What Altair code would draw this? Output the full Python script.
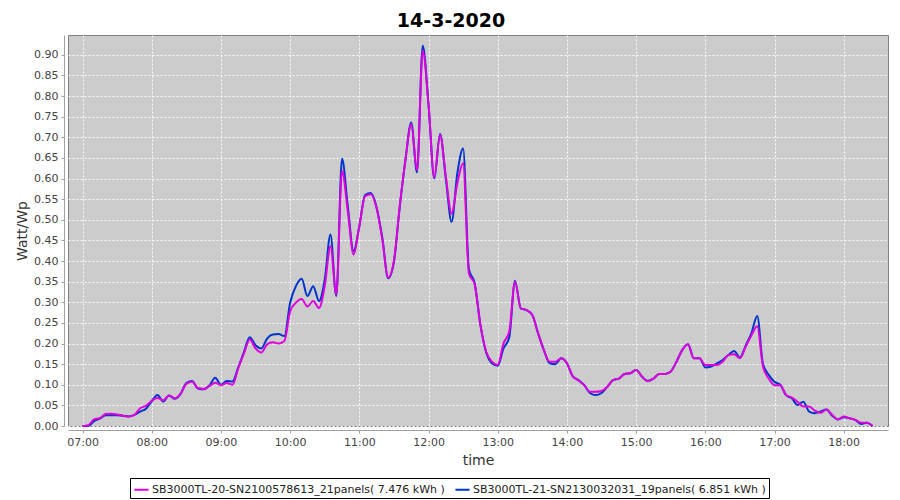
import altair as alt
import pandas as pd

# 5-minute samples from 07:00 to 18:25
start_hour = 7.0
step_min = 5

series_a_name = "SB3000TL-20-SN2100578613_21panels( 7.476 kWh )"
series_b_name = "SB3000TL-21-SN2130032031_19panels( 6.851 kWh )"

series_a = [
    0.000, 0.002, 0.016, 0.019, 0.029, 0.030, 0.028, 0.025, 0.023, 0.027, 0.043, 0.049,  # 07
    0.061, 0.068, 0.062, 0.074, 0.067, 0.078, 0.102, 0.107, 0.092, 0.090, 0.097, 0.105,  # 08
    0.099, 0.104, 0.100, 0.140, 0.176, 0.210, 0.188, 0.178, 0.198, 0.203, 0.200, 0.206,  # 09
    0.278, 0.299, 0.308, 0.290, 0.303, 0.286, 0.339, 0.436, 0.319, 0.618, 0.521, 0.416,  # 10
    0.484, 0.557, 0.562, 0.528, 0.451, 0.360, 0.400, 0.532, 0.645, 0.732, 0.620, 0.910,  # 11
    0.779, 0.603, 0.706, 0.605, 0.515, 0.589, 0.637, 0.370, 0.344, 0.245, 0.180, 0.156,  # 12
    0.148, 0.200, 0.229, 0.350, 0.285, 0.281, 0.269, 0.225, 0.184, 0.156, 0.156, 0.164,  # 13
    0.152, 0.121, 0.111, 0.099, 0.083, 0.083, 0.085, 0.095, 0.111, 0.115, 0.126, 0.128,  # 14
    0.136, 0.120, 0.109, 0.115, 0.126, 0.126, 0.132, 0.156, 0.184, 0.198, 0.164, 0.164,  # 15
    0.148, 0.148, 0.148, 0.156, 0.172, 0.174, 0.164, 0.192, 0.220, 0.242, 0.144, 0.115,  # 16
    0.099, 0.099, 0.075, 0.069, 0.059, 0.047, 0.047, 0.037, 0.032, 0.040, 0.027, 0.016,  # 17
    0.023, 0.019, 0.015, 0.008, 0.008, 0.000,                                            # 18
]

series_b = [
    0.000, 0.000, 0.012, 0.018, 0.026, 0.026, 0.026, 0.025, 0.023, 0.027, 0.035, 0.042,  # 07
    0.060, 0.075, 0.059, 0.074, 0.066, 0.078, 0.104, 0.109, 0.091, 0.089, 0.098, 0.117,  # 08
    0.100, 0.109, 0.108, 0.142, 0.180, 0.215, 0.196, 0.188, 0.212, 0.222, 0.223, 0.218,  # 09
    0.299, 0.339, 0.357, 0.315, 0.339, 0.303, 0.355, 0.464, 0.315, 0.648, 0.533, 0.424,  # 10
    0.484, 0.560, 0.565, 0.530, 0.455, 0.358, 0.398, 0.530, 0.645, 0.736, 0.615, 0.922,  # 11
    0.780, 0.600, 0.708, 0.600, 0.495, 0.613, 0.673, 0.380, 0.346, 0.245, 0.178, 0.152,  # 12
    0.146, 0.188, 0.215, 0.352, 0.285, 0.281, 0.269, 0.225, 0.184, 0.152, 0.150, 0.164,  # 13
    0.152, 0.121, 0.111, 0.099, 0.080, 0.075, 0.080, 0.095, 0.111, 0.115, 0.126, 0.128,  # 14
    0.136, 0.120, 0.109, 0.115, 0.126, 0.126, 0.132, 0.156, 0.184, 0.198, 0.164, 0.164,  # 15
    0.142, 0.144, 0.152, 0.160, 0.172, 0.182, 0.166, 0.195, 0.225, 0.267, 0.150, 0.124,  # 16
    0.107, 0.100, 0.075, 0.067, 0.051, 0.059, 0.035, 0.031, 0.035, 0.040, 0.025, 0.016,  # 17
    0.021, 0.019, 0.015, 0.005, 0.008, 0.000,                                            # 18
]

hour_ticks = [7, 8, 9, 10, 11, 12, 13, 14, 15, 16, 17, 18]
y_ticks = [0.00, 0.05, 0.10, 0.15, 0.20, 0.25, 0.30, 0.35, 0.40, 0.45,
           0.50, 0.55, 0.60, 0.65, 0.70, 0.75, 0.80, 0.85, 0.90]

hours = [start_hour + i * step_min / 60.0 for i in range(len(series_a))]

df = pd.DataFrame(
    {"time": hours * 2,
     "value": series_b + series_a,
     "series": [series_b_name] * len(series_b) + [series_a_name] * len(series_a),
     "order": [0] * len(series_b) + [1] * len(series_a)}
)

font = "DejaVu Sans"
color_scale = alt.Scale(domain=[series_a_name, series_b_name], range=["#dd00dd", "#0033cc"])

base = alt.Chart(df).encode(
    x=alt.X("time:Q",
            scale=alt.Scale(domain=[6.79, 18.64], nice=False, zero=False),
            axis=alt.Axis(values=hour_ticks,
                          labelExpr="(datum.value < 10 ? '0' : '') + datum.value + ':00'",
                          title="time", offset=4, grid=True)),
    y=alt.Y("value:Q",
            scale=alt.Scale(domain=[0, 0.948], nice=False),
            axis=alt.Axis(values=y_ticks, format=".2f", title="Watt/Wp",
                          offset=4, grid=True)),
    color=alt.Color("series:N", scale=color_scale,
                    legend=alt.Legend(title=None, orient="none", direction="horizontal",
                                      legendX=62, legendY=443)),
)

blue = base.transform_filter(alt.datum.order == 0).mark_line(
    strokeWidth=2, interpolate="monotone")
magenta = base.transform_filter(alt.datum.order == 1).mark_line(
    strokeWidth=2, interpolate="monotone")

chart = alt.layer(blue, magenta).properties(
    width=820, height=391,
    autosize=alt.AutoSizeParams(type="none"),
    padding={"left": 60, "top": 27, "right": 4, "bottom": 74},
    title=alt.TitleParams("14-3-2020", font=font, fontSize=19, fontWeight="bold",
                          color="#000000", anchor="middle", dx=-27, offset=4),
).configure_view(
    fill="#cccccc", stroke="#808080", strokeWidth=1
).configure_axis(
    labelFont=font, labelFontSize=11, labelColor="#444444",
    titleFont=font, titleFontSize=14, titleFontWeight="normal", titleColor="#333333",
    domainColor="#a0a0a0", tickColor="#a0a0a0", tickSize=3, labelPadding=3,
    gridColor="#ffffff", gridDash=[2, 2], gridWidth=1, gridOpacity=0.9,
).configure_axisY(
    titlePadding=4,
).configure_axisX(
    titlePadding=6,
).configure_legend(
    labelFont=font, labelFontSize=11, labelColor="#222222", labelLimit=400,
    symbolType="stroke", symbolStrokeWidth=2, symbolSize=200,
    fillColor="#ffffff", strokeColor="#000000", padding=3,
    columnPadding=6, labelOffset=2, rowPadding=0,
)

chart.save("out.html", embed_options={"renderer": "svg", "actions": False})
